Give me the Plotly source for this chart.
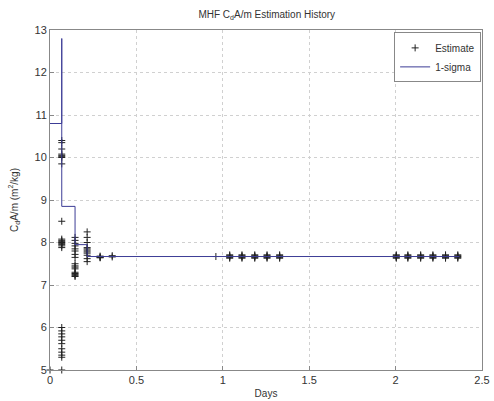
import plotly.graph_objects as go

# 1-sigma envelope (step history)
sigma_days = [0.0, 0.068, 0.068, 0.068, 0.145, 0.145, 0.215, 0.215, 2.37]
sigma_vals = [10.8, 10.8, 12.8, 8.85, 8.85, 7.95, 7.95, 7.67, 7.67]

# Estimate clusters: pass day and estimates within that pass
pass_days = [0.0, 0.068, 0.145, 0.215, 0.29, 0.36, 0.96,
             1.04, 1.111, 1.185, 1.256, 1.329,
             2.004, 2.071, 2.145, 2.216, 2.289, 2.36]
pass_vals = [
    [5.0],
    [10.4, 10.35, 10.2, 10.08, 10.05, 10.02, 10.0, 9.85, 8.5,
     8.08, 8.05, 8.02, 8.0, 7.98, 7.95, 7.92, 7.88,
     6.0, 5.92, 5.85, 5.78, 5.7, 5.62, 5.5, 5.42, 5.35, 5.3, 5.0],
    [8.12, 8.05, 7.98, 7.92, 7.85, 7.8, 7.72, 7.65, 7.5, 7.45, 7.42,
     7.38, 7.3, 7.27, 7.25, 7.22, 7.2],
    [8.25, 8.12, 8.0, 7.88, 7.85, 7.82, 7.78, 7.75, 7.7, 7.62, 7.55],
    [7.68, 7.66, 7.65, 7.64],
    [7.69, 7.66],
    [7.67],
    [7.63, 7.65, 7.67, 7.69, 7.71],
    [7.63, 7.65, 7.67, 7.69, 7.71],
    [7.63, 7.65, 7.67, 7.69, 7.71],
    [7.63, 7.65, 7.67, 7.69, 7.71],
    [7.63, 7.65, 7.67, 7.69, 7.71],
    [7.63, 7.65, 7.67, 7.69, 7.71],
    [7.63, 7.65, 7.67, 7.69, 7.71],
    [7.63, 7.65, 7.67, 7.69, 7.71],
    [7.63, 7.65, 7.67, 7.69, 7.71],
    [7.63, 7.65, 7.67, 7.69, 7.71],
    [7.63, 7.65, 7.67, 7.69, 7.71],
]

x_ticks = [0, 0.5, 1, 1.5, 2, 2.5]
x_labels = ["0", "0.5", "1", "1.5", "2", "2.5"]
y_ticks = [5, 6, 7, 8, 9, 10, 11, 12, 13]

est_days = []
est_vals = []
for d, vals in zip(pass_days, pass_vals):
    est_days += [d] * len(vals)
    est_vals += vals

FONT = "Liberation Sans, Arial, sans-serif"
TXT = "#333333"

fig = go.Figure()
fig.add_trace(go.Scatter(
    x=est_days, y=est_vals, mode="markers", name="Estimate",
    marker=dict(symbol="cross-thin", size=5, color="black",
                line=dict(color="#222222", width=1)),
    cliponaxis=False,
))
fig.add_trace(go.Scatter(
    x=sigma_days, y=sigma_vals, mode="lines", name="1-sigma",
    line=dict(color="#3c3c96", width=1),
))

axis_common = dict(
    showgrid=True, gridcolor="#d0d0d0", griddash="dot", gridwidth=1,
    showline=True, linecolor="#888888", linewidth=1, mirror=True,
    ticks="inside", ticklen=4, tickcolor="#888888",
    zeroline=False, automargin=False,
    tickfont=dict(family=FONT, size=11, color=TXT),
)

fig.update_xaxes(range=[0, 2.5], tickvals=x_ticks, ticktext=x_labels,
                 title=dict(text="Days", font=dict(family=FONT, size=10, color=TXT),
                            standoff=4),
                 **axis_common)
fig.update_yaxes(range=[5, 13], tickvals=y_ticks,
                 title=dict(text="C<sub>d</sub>A/m (m<sup>2</sup>/kg)",
                            font=dict(family=FONT, size=10, color=TXT), standoff=14),
                 **axis_common)

fig.update_layout(
    width=494, height=401,
    margin=dict(l=50, r=12, t=30, b=31),
    paper_bgcolor="white", plot_bgcolor="white",
    title=dict(text="MHF C<sub>d</sub>A/m Estimation History",
               font=dict(family=FONT, size=10, color=TXT),
               x=0.54, xanchor="center", y=0.965, yanchor="middle"),
    legend=dict(x=0.998, y=0.993, xanchor="right", yanchor="top",
                bgcolor="white", bordercolor="#888888", borderwidth=1,
                font=dict(family=FONT, size=10, color=TXT),
                itemwidth=30, tracegroupgap=0),
    showlegend=True,
)

fig.write_html("out.html")
